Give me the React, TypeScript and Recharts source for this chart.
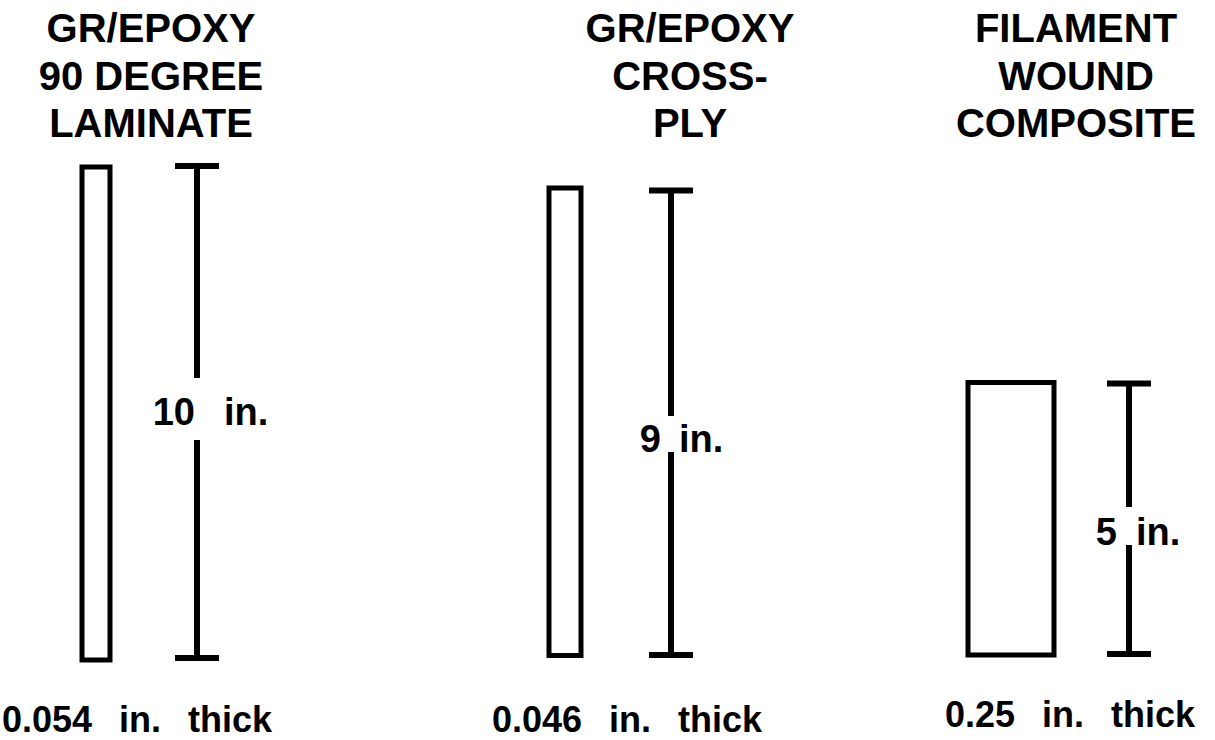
import {
  ComposedChart,
  ReferenceArea,
  ReferenceLine,
  Scatter,
  XAxis,
  YAxis,
} from "recharts";

// drawing units: 1 unit ~ 1 px, y = 0 at the specimen base line
const titleLines = [
  ["GR/EPOXY", "90 DEGREE", "LAMINATE"],
  ["GR/EPOXY", "CROSS-", "PLY"],
  ["FILAMENT", "WOUND", "COMPOSITE"],
];
const lengths = [10, 9, 5];
const thickness = ["0.054", "0.046", "0.25"];

// specimen outlines
const stripLeft = [82, 549, 968];
const stripRight = [110, 581, 1054];
const stripTop = [490, 469, 274.5];
const stripBottom = [-3, 1.5, 2];

// dimension lines
const dimX = [197, 671, 1129];
const dimTop = [491, 466.5, 273.5];
const dimBottom = [-1, 2, 3];
const gapTop = [279, 241, 150];
const gapBottom = [217, 205, 112];

// label anchors
const titleX = [151, 690, 1076];
const titleY = [615, 615, 615];
const captionX = [137, 627, 1070];
const captionY = [-75, -75, -70];
const numEnd = [195, 661, 1117];
const unitStart = [224, 679, 1136];
const lengthY = [232, 205, 112];

const FONT = "'Liberation Sans', Arial, Helvetica, sans-serif";
const INK = "#000";

const titles = titleLines.map((lines, i) => ({ x: titleX[i], y: titleY[i], lines }));
const captions = thickness.map((t, i) => ({ x: captionX[i], y: captionY[i], text: `${t} in. thick` }));
const lengthLabels = lengths.map((len, i) => ({
  x: dimX[i],
  y: lengthY[i],
  len,
  numEnd: numEnd[i],
  unitStart: unitStart[i],
}));

const TitleShape = (props: any) => {
  const { cx, cy, payload } = props;
  return (
    <text x={cx} y={cy} textAnchor="middle" fontFamily={FONT} fontWeight="bold" fontSize={40} fill={INK}>
      {payload.lines.map((line: string, k: number) => (
        <tspan key={k} x={cx} dy={k === 0 ? 0 : 47.5}>
          {line}
        </tspan>
      ))}
    </text>
  );
};

const CaptionShape = (props: any) => {
  const { cx, cy, payload } = props;
  return (
    <text
      x={cx}
      y={cy}
      textAnchor="middle"
      fontFamily={FONT}
      fontWeight="bold"
      fontSize={36}
      fill={INK}
      style={{ wordSpacing: 17 }}
    >
      {payload.text}
    </text>
  );
};

const LengthShape = (props: any) => {
  const { cx, cy, payload } = props;
  const dx = cx - payload.x; // keep offsets in the scale's frame
  return (
    <g fontFamily={FONT} fontWeight="bold" fontSize={38} fill={INK}>
      <text x={payload.numEnd + dx} y={cy} textAnchor="end">
        {payload.len}
      </text>
      <text x={payload.unitStart + dx} y={cy} textAnchor="start">
        in.
      </text>
    </g>
  );
};

export default function App() {
  return (
    <div style={{ position: "absolute", left: 0, top: 0, background: "#fff" }}>
      <ComposedChart width={1215} height={740} margin={{ top: 0, right: 0, bottom: 0, left: 0 }}>
        <XAxis type="number" dataKey="x" domain={[0, 1215]} allowDataOverflow hide />
        <YAxis type="number" dataKey="y" domain={[-83, 657]} allowDataOverflow hide />

        {stripLeft.map((l, i) => (
          <ReferenceArea
            key={`strip-${i}`}
            x1={l}
            x2={stripRight[i]}
            y1={stripBottom[i]}
            y2={stripTop[i]}
            fill="none"
            fillOpacity={0}
            stroke={INK}
            strokeWidth={5}
            ifOverflow="visible"
          />
        ))}

        {dimX.map((x, i) => [
          <ReferenceLine
            key={`up-${i}`}
            segment={[{ x, y: dimTop[i] }, { x, y: gapTop[i] }]}
            stroke={INK}
            strokeWidth={6}
            ifOverflow="visible"
          />,
          <ReferenceLine
            key={`lo-${i}`}
            segment={[{ x, y: gapBottom[i] }, { x, y: dimBottom[i] }]}
            stroke={INK}
            strokeWidth={6}
            ifOverflow="visible"
          />,
          <ReferenceLine
            key={`tt-${i}`}
            segment={[{ x: x - 22, y: dimTop[i] }, { x: x + 22, y: dimTop[i] }]}
            stroke={INK}
            strokeWidth={6}
            ifOverflow="visible"
          />,
          <ReferenceLine
            key={`tb-${i}`}
            segment={[{ x: x - 22, y: dimBottom[i] }, { x: x + 22, y: dimBottom[i] }]}
            stroke={INK}
            strokeWidth={6}
            ifOverflow="visible"
          />,
        ])}

        <Scatter data={titles} dataKey="y" shape={TitleShape} isAnimationActive={false} />
        <Scatter data={captions} dataKey="y" shape={CaptionShape} isAnimationActive={false} />
        <Scatter data={lengthLabels} dataKey="y" shape={LengthShape} isAnimationActive={false} />
      </ComposedChart>
    </div>
  );
}
